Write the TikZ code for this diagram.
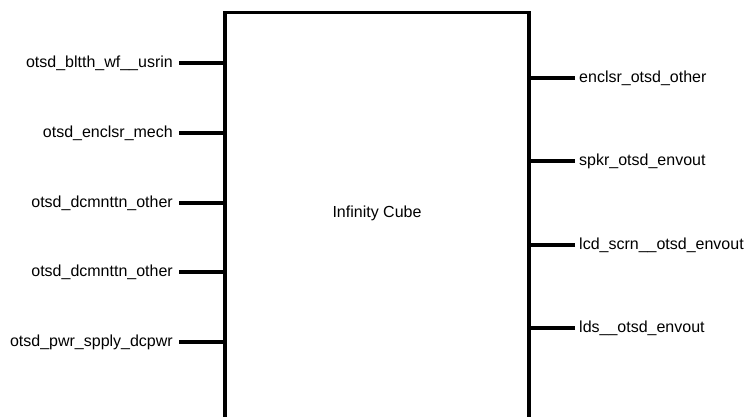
\documentclass[tikz,border=0pt]{standalone}
\usepackage{fontspec}
\setmainfont{Liberation Sans}
\begin{document}
\begin{tikzpicture}[x=1pt,y=-1pt,
  wire/.style={line width=3.5pt},
  inlabel/.style={anchor=east,inner xsep=6pt,inner ysep=0pt,font=\fontsize{16}{19}\selectfont},
  outlabel/.style={anchor=west,inner xsep=4pt,inner ysep=0pt,font=\fontsize{16}{19}\selectfont},
  blockbox/.style={draw,line width=3.5pt,minimum width=304pt,minimum height=500pt,anchor=north,inner sep=0pt}]
\useasboundingbox (0,0) rectangle (749,417);
\clip (0,0) rectangle (749,417);
\node[blockbox] (cube) at (377,11) {};
\node[font=\fontsize{16}{19}\selectfont] (title) at (377,213) {Infinity Cube};
% inputs
\node[inlabel] (i1) at (179,63) {otsd\_bltth\_wf\_\_usrin};
\node[inlabel] (i2) at (179,133) {otsd\_enclsr\_mech};
\node[inlabel] (i3) at (179,203) {otsd\_dcmnttn\_other};
\node[inlabel] (i4) at (179,272) {otsd\_dcmnttn\_other};
\node[inlabel] (i5) at (179,342) {otsd\_pwr\_spply\_dcpwr};
\foreach \n in {i1,i2,i3,i4,i5}
  \draw[wire] (\n.east) -- (\n.east -| cube.west);
% outputs
\node[outlabel] (o1) at (575,78) {enclsr\_otsd\_other};
\node[outlabel] (o2) at (575,161) {spkr\_otsd\_envout};
\node[outlabel] (o3) at (575,245) {lcd\_scrn\_\_otsd\_envout};
\node[outlabel] (o4) at (575,328) {lds\_\_otsd\_envout};
\foreach \n in {o1,o2,o3,o4}
  \draw[wire] (\n.west) -- (\n.west -| cube.east);
\end{tikzpicture}
\end{document}
